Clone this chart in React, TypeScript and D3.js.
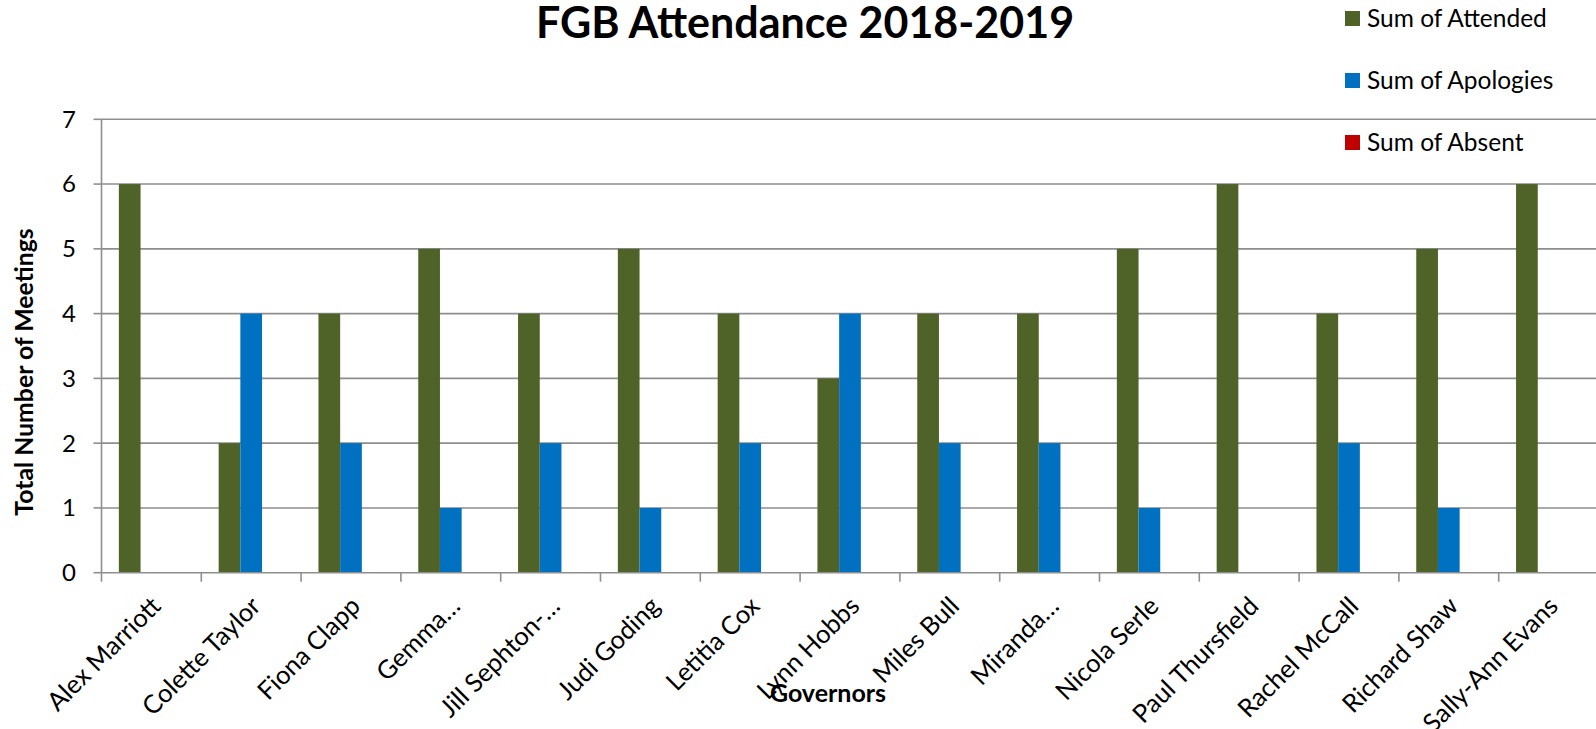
import React from "react";
import * as d3 from "d3";

const governors = [
  "Alex Marriott",
  "Colette Taylor",
  "Fiona Clapp",
  "Gemma…",
  "Jill Sephton-…",
  "Judi Goding",
  "Letitia Cox",
  "Lynn Hobbs",
  "Miles Bull",
  "Miranda…",
  "Nicola Serle",
  "Paul Thursfield",
  "Rachel McCall",
  "Richard Shaw",
  "Sally-Ann Evans",
];
const attended = [6, 2, 4, 5, 4, 5, 4, 3, 4, 4, 5, 6, 4, 5, 6];
const apologies = [0, 4, 2, 1, 2, 1, 2, 4, 2, 2, 1, 0, 2, 1, 0];
const absent = [0, 0, 0, 0, 0, 0, 0, 0, 0, 0, 0, 0, 0, 0, 0];
const seriesNames = ["Sum of Attended", "Sum of Apologies", "Sum of Absent"];
const seriesColors = ["#4F6228", "#0070C0", "#C00000"];
const yTicks = [0, 1, 2, 3, 4, 5, 6, 7];

const W = 1596;
const H = 729;
const FONT = "Lato, 'Open Sans', sans-serif";

export default function App() {
  const left = 101.5;
  const right = 1598.5;
  const top = 119.3;
  const bottom = 572.7;

  const x = d3.scaleBand<string>().domain(governors).range([left, right]).padding(0);
  const xs = d3
    .scaleBand<string>()
    .domain(seriesNames)
    .range([0, x.bandwidth()])
    .paddingInner(0)
    .paddingOuter(0.8);
  const y = d3.scaleLinear().domain([0, 7]).range([bottom, top]);

  const seriesValues = [attended, apologies, absent];

  return (
    <svg
      width={W}
      height={H}
      style={{ position: "absolute", left: 0, top: 0, background: "#fff" }}
      fontFamily={FONT}
    >
      <rect x={0} y={0} width={W} height={H} fill="#fff" />
      {/* gridlines */}
      {yTicks.slice(1).map((t) => (
        <line key={"g" + t} x1={left} x2={W} y1={y(t)} y2={y(t)} stroke="#8e8e8e" strokeWidth={1.6} />
      ))}
      {/* bars */}
      {seriesValues.map((vals, si) =>
        vals.map((v, i) =>
          v > 0 ? (
            <rect
              key={si + "-" + i}
              x={(x(governors[i]) as number) + (xs(seriesNames[si]) as number)}
              y={y(v)}
              width={xs.bandwidth()}
              height={y(0) - y(v)}
              fill={seriesColors[si]}
            />
          ) : null
        )
      )}
      {/* y axis */}
      <line x1={left} x2={left} y1={top} y2={bottom} stroke="#8e8e8e" strokeWidth={1.6} />
      {yTicks.map((t) => (
        <g key={"yt" + t}>
          <line x1={left - 8} x2={left} y1={y(t)} y2={y(t)} stroke="#8e8e8e" strokeWidth={1.6} />
          <text x={76} y={y(t)} dy="0.35em" textAnchor="end" fontSize={24} fill="#000">
            {t}
          </text>
        </g>
      ))}
      {/* x axis */}
      <line x1={left} x2={W} y1={bottom} y2={bottom} stroke="#8e8e8e" strokeWidth={1.6} />
      {governors.map((g, i) => (
        <line
          key={"xt" + i}
          x1={left + i * x.step()}
          x2={left + i * x.step()}
          y1={bottom}
          y2={bottom + 9}
          stroke="#8e8e8e"
          strokeWidth={1.6}
        />
      ))}
      {governors.map((g) => {
        const cx = (x(g) as number) + x.bandwidth() / 2 + 11;
        const cy = bottom + 35;
        return (
          <text
            key={"xl" + g}
            x={cx}
            y={cy}
            textAnchor="end"
            fontSize={25.5}
            fill="#000"
            transform={`rotate(-45, ${cx}, ${cy})`}
          >
            {g}
          </text>
        );
      })}
      {/* titles */}
      <text x={805} y={38} textAnchor="middle" fontSize={43} fontWeight="bold" fill="#000">
        FGB Attendance 2018-2019
      </text>
      <text x={828} y={702} textAnchor="middle" fontSize={25} fontWeight="bold" fill="#000">
        Governors
      </text>
      <text
        x={0}
        y={0}
        textAnchor="middle"
        fontSize={24.8}
        fontWeight="bold"
        fill="#000"
        transform={`translate(33, 372) rotate(-90)`}
      >
        Total Number of Meetings
      </text>
      {/* legend */}
      {seriesNames.map((s, i) => {
        const ly = [18, 80, 142][i];
        return (
          <g key={"lg" + s}>
            <rect x={1345} y={ly - 7} width={15} height={15} fill={seriesColors[i]} />
            <text x={1367} y={ly} dy="0.35em" fontSize={24.5} fill="#000">
              {s}
            </text>
          </g>
        );
      })}
    </svg>
  );
}
